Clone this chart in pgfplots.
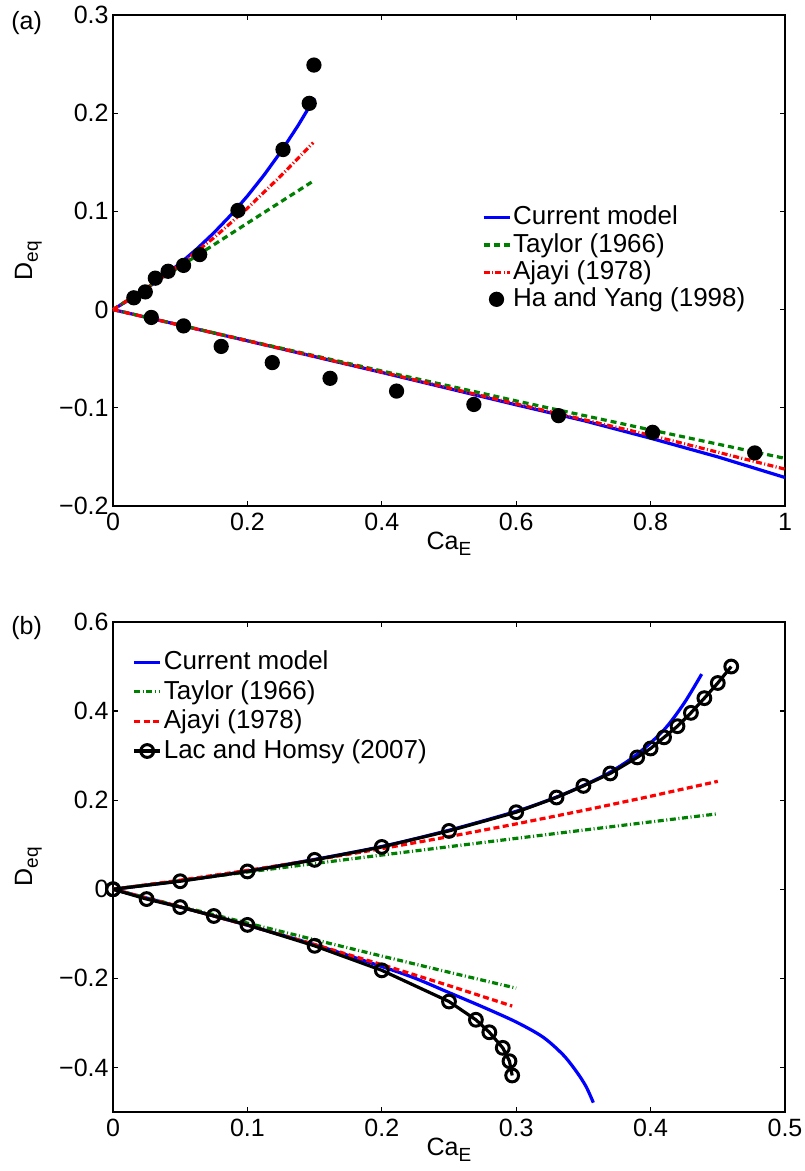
\documentclass[border=0pt]{standalone}
\usepackage{fontspec}
\setmainfont{Liberation Sans}
\usepackage{pgfplots}
\pgfplotsset{compat=1.18}

\definecolor{mblue}{rgb}{0,0,1}
\definecolor{mgreen}{rgb}{0,0.5,0}
\definecolor{mred}{rgb}{1,0,0}

\newcommand{\sub}[1]{\raisebox{-0.45ex}{\fontsize{9.5}{10}\selectfont #1}}

\pgfplotsset{
  mystyle/.style={
    scale only axis,
    width=336pt,
    clip=false,
    axis line style={line width=0.6pt},
    tick style={line width=0.6pt, black},
    major tick length=2.5pt,
    tick align=inside,
    ticklabel style={font=\fontsize{12.5}{14}\selectfont},
    yticklabel style={inner xsep=2pt},
    xlabel style={at={(axis description cs:0.5,0)}, anchor=base, yshift=-22pt, font=\fontsize{12.5}{14}\selectfont},
    ylabel style={at={(axis description cs:-0.1205,0.5)}, anchor=base, font=\fontsize{12.5}{14}\selectfont},
    legend image code/.code={\draw[mark repeat=2,mark phase=2,##1] plot coordinates {(0pt,0pt) (6.5pt,0pt) (13pt,0pt)};},
    legend cell align=left,
    legend style={draw=none, fill=none, inner sep=0pt, outer sep=0pt,
      font=\fontsize{13}{15}\selectfont,
      nodes={inner ysep=0pt, inner xsep=1pt, text height=0.72em, text depth=0pt}},
    every axis plot/.append style={line width=1.6pt},
  }
}

\begin{document}
\begin{tikzpicture}
\path[use as bounding box] (0,0) rectangle (402pt,585.5pt);

% ---------------- (a) ----------------
\begin{axis}[mystyle,
  at={(56.5pt,332.5pt)}, anchor=south west,
  height=245.5pt,
  xmin=0, xmax=1, ymin=-0.2, ymax=0.3,
  xtick={0,0.2,0.4,0.6,0.8,1},
  xticklabels={0,0.2,0.4,0.6,0.8,1},
  ytick={-0.2,-0.1,0,0.1,0.2,0.3},
  yticklabels={−0.2,−0.1,0,0.1,0.2,0.3},
  xlabel={Ca\sub{E}},
  ylabel={D\sub{eq}},
  legend style={at={(axis cs:0.549,0.052)}, anchor=west, row sep=6.4pt},
]
\addplot[mblue, solid] coordinates {(0,0)(0.025,0.0104)(0.05,0.0216)(0.075,0.0338)(0.1,0.0472)(0.125,0.0619)(0.15,0.0781)(0.175,0.0960)(0.2,0.1156)(0.225,0.1372)(0.25,0.1609)(0.275,0.1870)(0.3,0.2154)};
\addlegendentry{Current model}
\addplot[mblue, solid, forget plot] coordinates {(0,0)(0.2,-0.0318)(0.4,-0.064)(0.6,-0.097)(0.7,-0.113)(0.8,-0.131)(0.9,-0.150)(1.0,-0.171)};
\addplot[mgreen, dash pattern=on 3pt off 2pt] coordinates {(0,0)(0.1,0.044)(0.2,0.088)(0.296,0.130)};
\addlegendentry{Taylor (1966)}
\addplot[mgreen, dash pattern=on 3pt off 2pt, forget plot] coordinates {(0,0)(0.2,-0.0315)(0.4,-0.0625)(0.6,-0.093)(0.8,-0.1225)(1,-0.1515)};
\addplot[mred, dash pattern=on 3pt off 1.2pt on 0.5pt off 1.2pt] coordinates {(0,0)(0.05,0.0215)(0.1,0.0458)(0.15,0.0731)(0.2,0.1032)(0.25,0.1363)(0.298,0.170)};
\addlegendentry{Ajayi (1978)}
\addplot[mred, dash pattern=on 3pt off 1.2pt on 0.5pt off 1.2pt, forget plot] coordinates {(0,0)(0.2,-0.0318)(0.4,-0.0637)(0.6,-0.096)(0.8,-0.128)(1,-0.1625)};
\addplot[only marks, mark=*, black, mark size=3.0pt] coordinates {
 (0.031,0.012)(0.048,0.018)(0.063,0.032)(0.082,0.039)(0.105,0.045)(0.129,0.056)
 (0.186,0.101)(0.253,0.163)(0.292,0.210)(0.299,0.249)
 (0.057,-0.008)(0.105,-0.0166)(0.161,-0.0375)(0.237,-0.054)(0.323,-0.070)
 (0.422,-0.083)(0.537,-0.0966)(0.663,-0.108)(0.803,-0.125)(0.955,-0.146)};
\addlegendentry{Ha and Yang (1998)}
\end{axis}

% ---------------- (b) ----------------
\begin{axis}[mystyle,
  at={(56.5pt,29.5pt)}, anchor=south west,
  height=245pt,
  xmin=0, xmax=0.5, ymin=-0.5, ymax=0.6,
  xtick={0,0.1,0.2,0.3,0.4,0.5},
  xticklabels={0,0.1,0.2,0.3,0.4,0.5},
  ytick={-0.4,-0.2,0,0.2,0.4,0.6},
  yticklabels={−0.4,−0.2,0,0.2,0.4,0.6},
  xlabel={Ca\sub{E}},
  ylabel={D\sub{eq}},
  legend style={at={(axis cs:0.0146,0.41)}, anchor=west, row sep=7.6pt},
]
\addplot[mblue, solid, smooth] coordinates {(0,0)(0.05,0.019)(0.1,0.041)(0.15,0.067)(0.2,0.096)(0.25,0.1325)(0.3,0.175)(0.33,0.207)(0.35,0.233)(0.37,0.263)(0.39,0.303)(0.41,0.358)(0.425,0.418)(0.438,0.483)};
\addlegendentry{Current model}
\addplot[mblue, solid, smooth, forget plot] coordinates {(0,0)(0.05,-0.0395)(0.1,-0.0808)(0.15,-0.1245)(0.2,-0.1735)(0.225,-0.2)(0.25,-0.232)(0.275,-0.264)(0.3,-0.298)(0.32,-0.332)(0.335,-0.372)(0.345,-0.41)(0.352,-0.443)(0.3574,-0.479)};
\addplot[mgreen, dash pattern=on 3pt off 1.3pt on 0.5pt off 1.3pt] coordinates {(0,0)(0.1,0.0387)(0.2,0.0768)(0.3,0.1143)(0.4,0.1512)(0.45,0.1694)};
\addlegendentry{Taylor (1966)}
\addplot[mgreen, dash pattern=on 3pt off 1.3pt on 0.5pt off 1.3pt, forget plot] coordinates {(0,0)(0.05,-0.0383)(0.1,-0.076)(0.15,-0.1133)(0.2,-0.150)(0.25,-0.1863)(0.3,-0.222)};
\addplot[mred, dash pattern=on 3pt off 1.7pt] coordinates {(0,0)(0.05,0.0203)(0.1,0.0423)(0.15,0.0659)(0.2,0.0912)(0.25,0.1181)(0.3,0.1467)(0.35,0.1769)(0.4,0.2088)(0.45,0.2423)};
\addlegendentry{Ajayi (1978)}
\addplot[mred, dash pattern=on 3pt off 1.7pt, forget plot] coordinates {(0,0)(0.05,-0.0395)(0.1,-0.0808)(0.15,-0.124)(0.2,-0.1692)(0.25,-0.2163)(0.297,-0.2622)};
\addplot[black, solid, mark=o, mark size=3.2pt, mark options={solid, line width=1.5pt}] coordinates {(0,0)(0.05,0.018)(0.1,0.040)(0.15,0.066)(0.2,0.095)(0.25,0.131)(0.3,0.173)(0.33,0.206)(0.35,0.232)(0.37,0.260)(0.39,0.296)(0.40,0.316)(0.41,0.341)(0.42,0.366)(0.43,0.396)(0.44,0.429)(0.45,0.463)(0.46,0.500)};
\addlegendentry{Lac and Homsy (2007)}
\addplot[black, solid, mark=o, mark size=3.2pt, mark options={solid, line width=1.5pt}, forget plot] coordinates {(0,0)(0.025,-0.022)(0.05,-0.040)(0.075,-0.060)(0.1,-0.080)(0.15,-0.127)(0.2,-0.182)(0.25,-0.252)(0.27,-0.293)(0.28,-0.321)(0.29,-0.356)(0.295,-0.386)(0.297,-0.418)};
\end{axis}

\node[font=\fontsize{12.5}{14}\selectfont] at (13.3pt,574pt) {(a)};
\node[font=\fontsize{12.5}{14}\selectfont] at (13.3pt,271.25pt) {(b)};
\end{tikzpicture}
\end{document}
